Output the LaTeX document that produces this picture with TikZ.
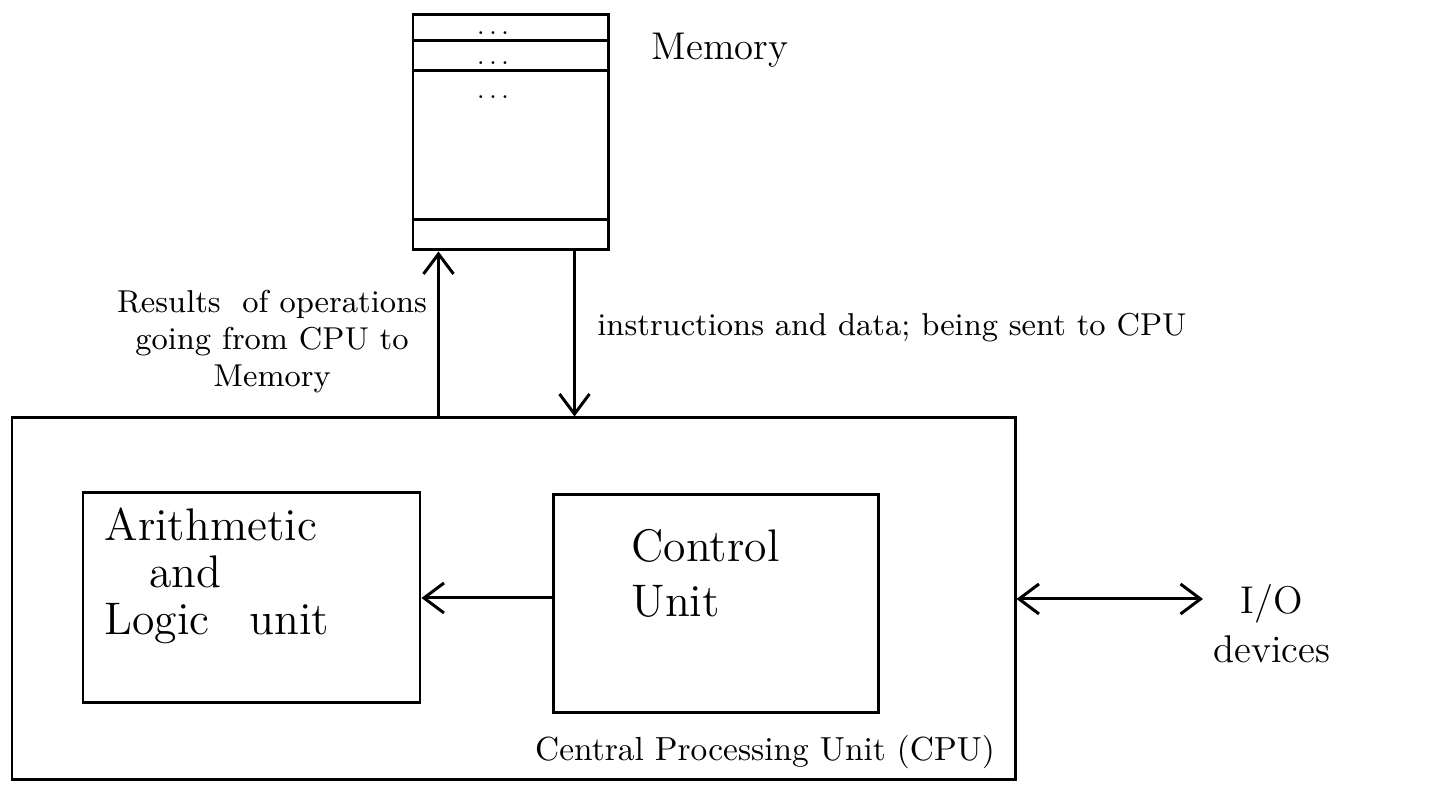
\documentclass[tikz,border=0pt]{standalone}
\usetikzlibrary{arrows.meta}

\tikzset{
    unitbox/.style={draw, rectangle, inner sep=0pt},
    flow/.style={-{Straight Barb[length=2mm,width=3mm]}},
    biflow/.style={{Straight Barb[length=2mm,width=3mm]}-{Straight Barb[length=2mm,width=3mm]}},
    note/.style={font=\fontsize{9}{10.5}\selectfont},
    unitname/.style={font=\fontsize{13}{13.5}\selectfont, align=left, inner sep=0pt}
}

\begin{document}
\begin{tikzpicture}[line width=0.85pt]

                \useasboundingbox (0, 0) rectangle (14.49, 7.92);

                % ==========================================
                % TOP: Memory
                % ==========================================

                \node[unitbox, minimum width=1.95cm, minimum height=2.35cm] (mem) at (5.105, 6.595) {};

                % Memory cells
                \draw ([yshift=-0.27cm]mem.north west) -- ([yshift=-0.27cm]mem.north east);
                \draw ([yshift=-0.57cm]mem.north west) -- ([yshift=-0.57cm]mem.north east);
                \draw ([yshift=0.32cm]mem.south west) -- ([yshift=0.32cm]mem.south east);
                \node[font=\scriptsize] (dots1) at (4.93, 7.59) {.\,.\,.};
                \node[font=\scriptsize] (dots2) at (4.93, 7.29) {.\,.\,.};
                \node[font=\scriptsize] (dots3) at (4.93, 6.95) {.\,.\,.};

                \node[font=\fontsize{11}{13}\selectfont] (memlabel) at (7.2, 7.42) {Memory};

                % ==========================================
                % BOTTOM: Central Processing Unit
                % ==========================================

                \node[unitbox, minimum width=10.03cm, minimum height=3.62cm] (cpu) at (5.135, 1.93) {};
                \node[unitbox, minimum width=3.37cm, minimum height=2.10cm] (alu) at (2.515, 1.94) {};
                \node[unitbox, minimum width=3.25cm, minimum height=2.18cm] (cu)  at (7.155, 1.88) {};

                % Unit names
                \node[unitname, anchor=north west] (alutext) at (1.03, 2.86)
                    {Arithmetic\\\hspace{0.45cm}and\\Logic\hspace{0.25cm} unit};
                \node[unitname, anchor=north west, font=\fontsize{13}{15.5}\selectfont] (cutext) at (6.30, 2.64)
                    {Control\\Unit};
                \node[font=\fontsize{9.5}{12}\selectfont] (cpulabel) at (7.65, 0.40)
                    {Central Processing Unit (CPU)};

                % Control unit drives the ALU
                \draw[flow] (cu.west |- alu.east) -- (alu.east);

                % ==========================================
                % Memory <-> CPU traffic
                % ==========================================

                \coordinate (resout) at ([xshift=0.27cm]mem.south west);
                \coordinate (instin) at ([xshift=-0.35cm]mem.south east);

                \draw[flow] (cpu.north -| resout) -- (resout);
                \draw[flow] (instin) -- (cpu.north -| instin);

                \node[note, align=center] (restext) at (2.72, 4.50)
                    {Results\ \ of operations\\going\ from CPU to\\Memory};
                \node[note] (insttext) at (8.92, 4.64)
                    {instructions\ and\ data;\ being sent to CPU};

                % ==========================================
                % RIGHT: I/O devices
                % ==========================================

                \coordinate (io) at (12.03, 1.93);
                \draw[biflow] (cpu.east) -- (io);
                \node[font=\fontsize{11}{14}\selectfont, align=center] (iotext) at (12.72, 1.68)
                    {I/O\\devices};

\end{tikzpicture}
\end{document}
